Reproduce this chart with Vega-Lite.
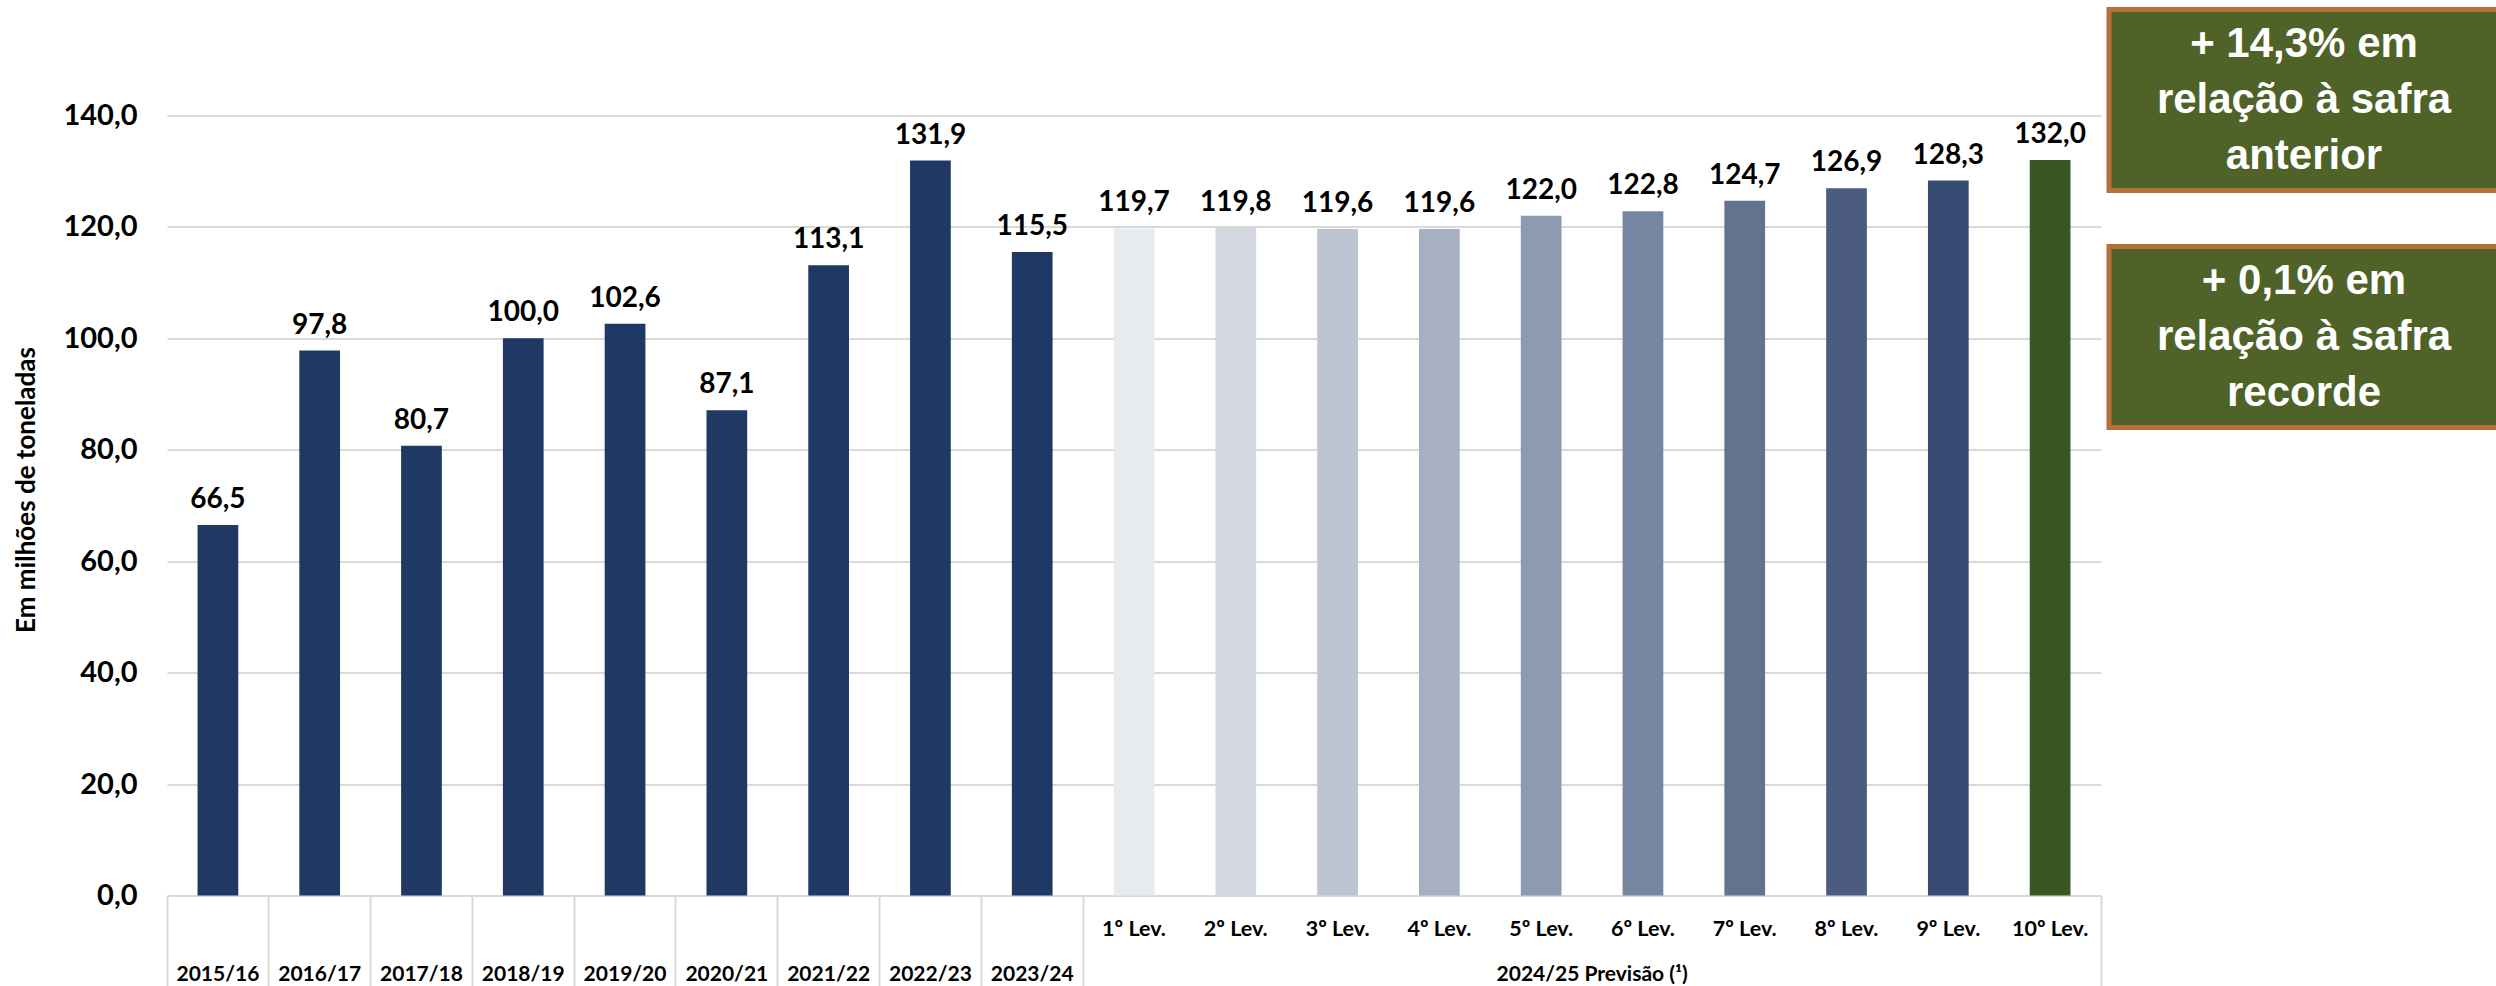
{
  "$schema": "https://vega.github.io/schema/vega-lite/v6.json",
  "padding": {"left": 13, "top": 6.5, "right": 0, "bottom": 0},
  "bounds": "flush",
  "spacing": 8,
  "config": {
    "view": {"stroke": null},
    "locale": {"number": {"decimal": ",", "thousands": ".", "grouping": [3], "currency": ["R$", ""]}},
    "font": "Lato"
  },
  "datasets": {
    "safras": [
      {"cat": "2015/16", "value": 66.5, "grp": "hist"},
      {"cat": "2016/17", "value": 97.8, "grp": "hist"},
      {"cat": "2017/18", "value": 80.7, "grp": "hist"},
      {"cat": "2018/19", "value": 100.0, "grp": "hist"},
      {"cat": "2019/20", "value": 102.6, "grp": "hist"},
      {"cat": "2020/21", "value": 87.1, "grp": "hist"},
      {"cat": "2021/22", "value": 113.1, "grp": "hist"},
      {"cat": "2022/23", "value": 131.9, "grp": "hist"},
      {"cat": "2023/24", "value": 115.5, "grp": "hist"},
      {"cat": "1º Lev.", "value": 119.7, "grp": "prev"},
      {"cat": "2º Lev.", "value": 119.8, "grp": "prev"},
      {"cat": "3º Lev.", "value": 119.6, "grp": "prev"},
      {"cat": "4º Lev.", "value": 119.6, "grp": "prev"},
      {"cat": "5º Lev.", "value": 122.0, "grp": "prev"},
      {"cat": "6º Lev.", "value": 122.8, "grp": "prev"},
      {"cat": "7º Lev.", "value": 124.7, "grp": "prev"},
      {"cat": "8º Lev.", "value": 126.9, "grp": "prev"},
      {"cat": "9º Lev.", "value": 128.3, "grp": "prev"},
      {"cat": "10º Lev.", "value": 132.0, "grp": "prev"}
    ],
    "caixas": [
      {"box": "a", "txt": "+ 14,3% em\nrelação à safra\nanterior"},
      {"box": "b", "txt": "+ 0,1% em\nrelação à safra\nrecorde"}
    ]
  },
  "hconcat": [
    {
      "width": 1934,
      "height": 886,
      "data": {"name": "safras"},
      "encoding": {
        "y": {
          "field": "value", "type": "quantitative",
          "scale": {"domain": [0, 159], "nice": false, "zero": true},
          "axis": {
            "values": [0, 20, 40, 60, 80, 100, 120, 140],
            "format": ".1f",
            "labelFont": "Lato", "labelFontSize": 29, "labelFontWeight": "bold", "labelColor": "#000000",
            "labelPadding": 30, "ticks": false, "domain": false,
            "grid": true, "gridColor": "#d9d9d9", "gridWidth": 2,
            "title": "Em milhões de toneladas",
            "titleFont": "Lato", "titleFontSize": 26, "titleFontWeight": "bold", "titleColor": "#000000",
            "titlePadding": 23, "titleY": 480
          }
        }
      },
      "resolve": {"axis": {"x": "independent"}},
      "layer": [
        {
          "mark": {"type": "bar", "width": {"band": 0.4}},
          "encoding": {
            "x": {
              "field": "cat", "type": "nominal", "sort": null,
              "scale": {"paddingInner": 0, "paddingOuter": 0},
              "axis": {
                "orient": "bottom",
                "labels": false, "ticks": true, "bandPosition": 0, "tickSize": 91, "tickWidth": 2,
                "tickColor": "#d9d9d9",
                "tickOpacity": {"condition": {"test": "indexof(datum.value, 'Lev') < 0 || datum.value == '1º Lev.'", "value": 1}, "value": 0},
                "domain": false, "grid": false, "title": null
              }
            },
            "color": {
              "field": "cat", "type": "nominal", "sort": null, "legend": null,
              "scale": {
                "domain": ["2015/16","2016/17","2017/18","2018/19","2019/20","2020/21","2021/22","2022/23","2023/24","1º Lev.","2º Lev.","3º Lev.","4º Lev.","5º Lev.","6º Lev.","7º Lev.","8º Lev.","9º Lev.","10º Lev."],
                "range": ["#203864","#203864","#203864","#203864","#203864","#203864","#203864","#203864","#203864","#e7eaef","#d3d8e0","#bcc4d2","#a7afc3","#8e9ab1","#7786a0","#63728f","#4c5c80","#364a72","#3a5623"]
              }
            }
          }
        },
        {
          "transform": [{"filter": "datum.grp == 'prev'"}],
          "mark": {"type": "text", "font": "Lato", "fontSize": 28, "fontWeight": "bold", "color": "#000000", "baseline": "alphabetic", "dy": -17},
          "encoding": {
            "x": {
              "field": "cat", "type": "nominal", "sort": null,
              "axis": {
                "orient": "bottom",
                "labelExpr": "indexof(datum.value, 'Lev') >= 0 ? datum.value : ''",
                "labelFont": "Lato", "labelFontSize": 21.5, "labelFontWeight": "bold", "labelColor": "#000000",
                "labelAngle": 0, "labelPadding": 23, "labelOverlap": false, "labelLimit": 0,
                "ticks": false, "domain": false, "grid": false, "title": null
              }
            },
            "text": {"field": "value", "type": "quantitative", "format": ".1f"}
          }
        },
        {
          "transform": [{"filter": "datum.grp == 'hist'"}],
          "mark": {"type": "text", "font": "Lato", "fontSize": 28, "fontWeight": "bold", "color": "#000000", "baseline": "alphabetic", "dy": -17},
          "encoding": {
            "x": {
              "field": "cat", "type": "nominal", "sort": null,
              "axis": {
                "orient": "bottom",
                "labelExpr": "indexof(datum.value, 'Lev') < 0 ? datum.value : (datum.value == '5º Lev.' ? '2024/25 Previsão (¹)' : '')",
                "labelOffset": {"condition": {"test": "datum.value == '5º Lev.'", "value": 51}, "value": 0},
                "labelFont": "Lato", "labelFontSize": 21, "labelFontWeight": "bold", "labelColor": "#000000",
                "labelAngle": 0, "labelPadding": -23, "labelOverlap": false, "labelLimit": 0,
                "ticks": true, "bandPosition": 1, "tickSize": 91, "tickWidth": 2, "tickColor": "#d9d9d9",
                "tickOpacity": {"condition": {"test": "datum.value == '10º Lev.'", "value": 1}, "value": 0},
                "domain": false, "grid": false, "title": null
              }
            },
            "text": {"field": "value", "type": "quantitative", "format": ".1f"}
          }
        }
      ]
    },
    {
      "width": 390,
      "height": 418,
      "data": {"name": "caixas"},
      "encoding": {
        "y": {"field": "box", "type": "nominal", "axis": null,
              "scale": {"paddingInner": 0.2363, "paddingOuter": 0}}
      },
      "layer": [
        {
          "mark": {"type": "rect", "fill": "#4f6228", "stroke": "#b5703a", "strokeWidth": 5}
        },
        {
          "mark": {"type": "text", "font": "Liberation Sans", "fontSize": 42, "fontWeight": "bold", "color": "#ffffff", "lineBreak": "\n", "lineHeight": 56, "baseline": "middle", "align": "center", "dy": -56},
          "encoding": {"text": {"field": "txt", "type": "nominal"}}
        }
      ]
    }
  ]
}
